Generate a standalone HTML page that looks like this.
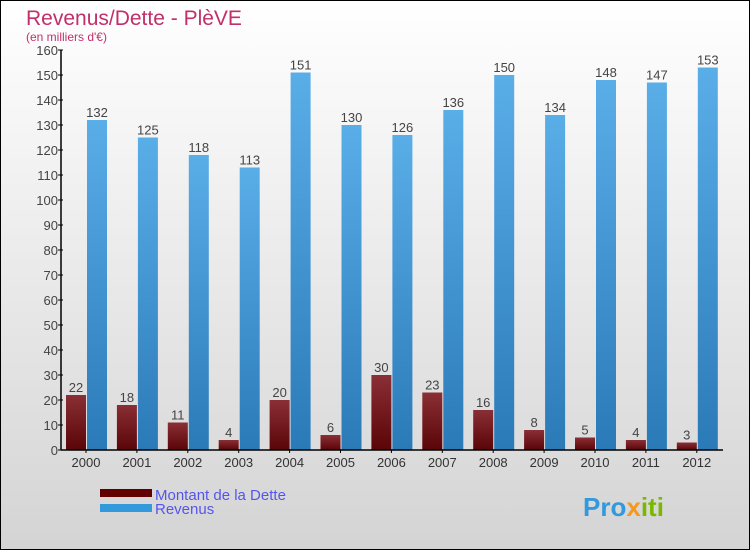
<!DOCTYPE html>
<html><head><meta charset="utf-8"><style>
body{margin:0}
#c{width:748px;height:548px;border:1px solid #000;background:linear-gradient(#fff,#d4d4d4);position:relative;font-family:"Liberation Sans",sans-serif;overflow:hidden}
</style></head><body>
<div id="c">
<svg id="s" width="748" height="548">
<defs>
<linearGradient id="gd" x1="0" y1="0" x2="0" y2="1"><stop offset="0" stop-color="#8a2f35"/><stop offset="1" stop-color="#5a0508"/></linearGradient>
<linearGradient id="gr" x1="0" y1="0" x2="0" y2="1"><stop offset="0" stop-color="#5aaee8"/><stop offset="1" stop-color="#2a7ab8"/></linearGradient>
</defs>
<text x="25" y="24" font-size="21" fill="#c0306a">Revenus/Dette - PlèVE</text>
<text x="25" y="40" font-size="12" fill="#c0306a">(en milliers d'€)</text>
<g id="g"></g>
<rect x="99" y="488" width="52" height="8" fill="#600000"/>
<rect x="99" y="503" width="52" height="8" fill="#3399dd"/>
<text x="154" y="499" font-size="15" fill="#5555ee">Montant de la Dette</text>
<text x="154" y="513" font-size="15" fill="#5555ee">Revenus</text>
<text x="582" y="515" font-size="26" font-weight="bold" fill="#3399dd">Pro<tspan fill="#f39a1e">x</tspan><tspan fill="#7ab800">iti</tspan></text>
</svg></div>
<script>
const years=["2000","2001","2002","2003","2004","2005","2006","2007","2008","2009","2010","2011","2012"];
const dette=[22,18,11,4,20,6,30,23,16,8,5,4,3];
const revenus=[132,125,118,113,151,130,126,136,150,134,148,147,153];
const yTicks=[0,10,20,30,40,50,60,70,80,90,100,110,120,130,140,150,160];
const NS="http://www.w3.org/2000/svg",g=document.getElementById('g');
const y0=449,x0=60,step=50.9;
const yS=v=>y0-v*2.5;
const xC=i=>x0+25+i*step;
function mk(t,a,txt){const e=document.createElementNS(NS,t);for(const k in a)e.setAttribute(k,a[k]);if(txt!==undefined)e.textContent=txt;g.appendChild(e);return e;}
yTicks.forEach(v=>{
 const l=mk('line',{x1:x0-3,x2:x0+2,y1:yS(v),y2:yS(v),stroke:'#000'});
 
 
 const t=mk('text',{x:x0-3,y:yS(v)+5,'font-size':13,'text-anchor':'end',fill:'#444'},v);
 
 
});
years.forEach((yr,i)=>{
 const c=xC(i);
 const bd=mk('rect',{x:c-20,y:yS(dette[i]),width:20,height:dette[i]*2.5,fill:'url(#gd)'});
 
 
 const br=mk('rect',{x:c+1,y:yS(revenus[i]),width:20,height:revenus[i]*2.5,fill:'url(#gr)'});
 
 
 const ld=mk('text',{x:c-10,y:yS(dette[i])-3,'font-size':13,'text-anchor':'middle',fill:'#444'},dette[i]);
 
 
 const lr=mk('text',{x:c+11,y:yS(revenus[i])-3,'font-size':13,'text-anchor':'middle',fill:'#444'},revenus[i]);
 
 
 const xt=mk('text',{x:c,y:y0+17,'font-size':13,'text-anchor':'middle',fill:'#333'},yr);
 
 
 const tk=mk('line',{x1:c,x2:c,y1:y0,y2:y0+3,stroke:'#000'});
 
 
});
const ya=mk('line',{x1:x0,x2:x0,y1:yS(160),y2:y0,stroke:'#000','stroke-width':1.5});


const xa=mk('line',{x1:x0,x2:722,y1:y0,y2:y0,stroke:'#000','stroke-width':1.5});


</script>
</body></html>
